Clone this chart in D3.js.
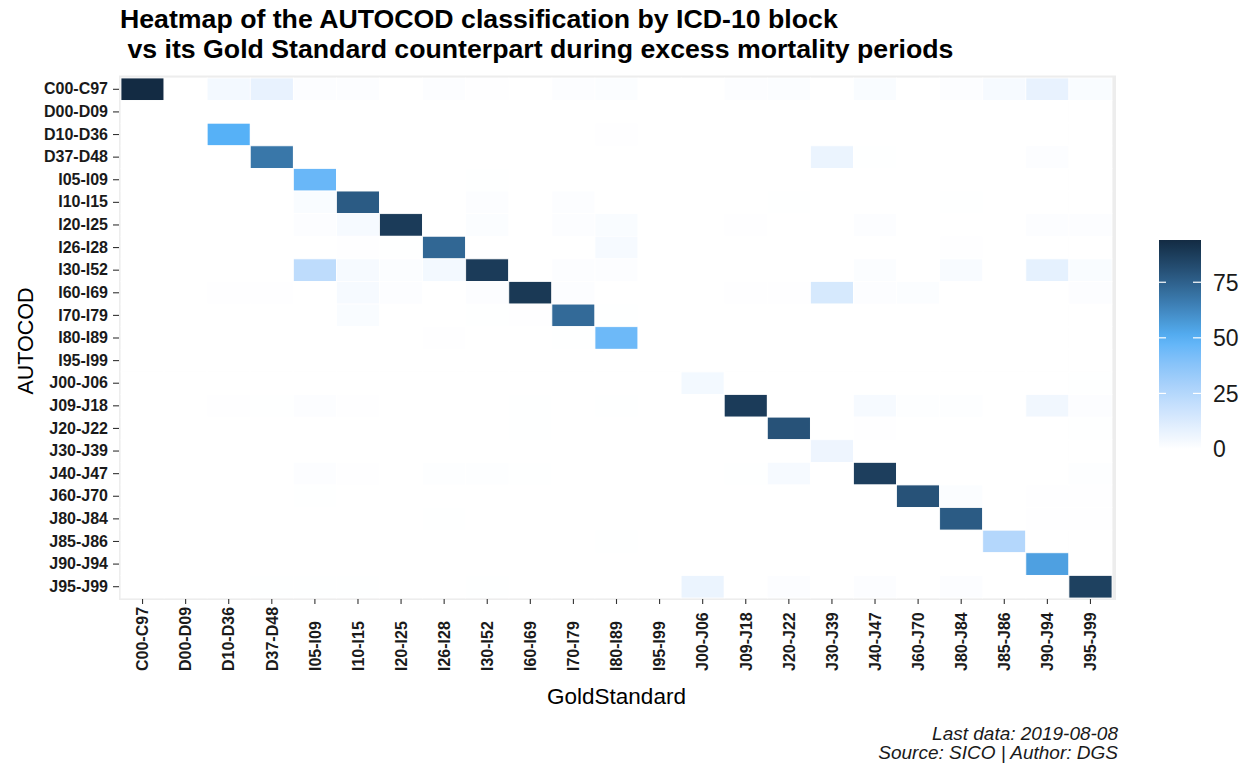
<!DOCTYPE html>
<html>
<head>
<meta charset="utf-8">
<script src="https://cdn.jsdelivr.net/npm/d3@7.9.0/dist/d3.min.js"></script>
<style>
  body { margin: 0; background: #fff; }
  svg text { font-family: "Liberation Sans", Arial, sans-serif; }
</style>
</head>
<body>
<svg id="chart" width="1250" height="768"></svg>
<script>
// ICD-10 blocks, same order on both axes
const blocks = ['C00-C97', 'D00-D09', 'D10-D36', 'D37-D48', 'I05-I09', 'I10-I15', 'I20-I25',
  'I26-I28', 'I30-I52', 'I60-I69', 'I70-I79', 'I80-I89', 'I95-I99', 'J00-J06', 'J09-J18',
  'J20-J22', 'J30-J39', 'J40-J47', 'J60-J70', 'J80-J84', 'J85-J86', 'J90-J94', 'J95-J99'];

// one row per AUTOCOD block, one value per GoldStandard block (percent)
const values = [
  [94, 0, 4, 8, 1, 1, 0, 1, 0.5, 0, 1, 1.5, 0, 0, 1, 1.5, 0, 2, 0, 1, 3, 8, 2],
  [0, 0, 0, 0, 0, 0, 0, 0, 0, 0, 0, 0, 0, 0, 0, 0, 0, 0, 0, 0, 0, 0, 0],
  [0, 0, 50, 0, 0, 0, 0, 0, 0, 0, 0, 0.5, 0, 0, 0, 0, 0, 0, 0, 0, 0, 0, 0],
  [0, 0, 0, 68, 0, 0, 0, 0, 0, 0, 0, 0, 0, 0, 0, 0, 7, 0.3, 0, 0, 0, 1, 0],
  [0, 0, 0, 0, 46, 0, 0, 0, 0.3, 0, 0, 0, 0, 0, 0, 0, 0, 0, 0, 0, 0, 0, 0],
  [0, 0, 0, 0, 2, 77, 0, 0, 1, 0, 1, 0, 0, 0, 0, 0.3, 0, 0, 0, 0.3, 0, 0, 0],
  [0, 0, 0, 0, 1, 3, 88, 0, 1.5, 0, 1, 2, 0, 0, 0.5, 0, 0, 1, 0, 0, 0, 1, 1],
  [0, 0, 0, 0, 0, 0.5, 0.3, 73, 0, 0, 0, 3, 0, 0, 0, 0, 0, 0, 0, 0.5, 0, 0, 0],
  [0, 0, 0, 0, 22, 3, 1.5, 4, 88, 0, 1, 1, 0, 0, 0, 0, 0, 1.5, 0, 2.5, 0, 9, 2],
  [0, 0, 0.5, 0.5, 0, 3, 1, 0, 1, 89, 1, 0, 0, 0, 0.5, 0.5, 14, 1, 1.5, 0, 0, 0, 1],
  [0, 0, 0, 0, 0, 2, 0, 0, 0.3, 0.5, 72, 0.3, 0, 0, 0, 0, 0, 0, 0, 0, 0, 0, 0],
  [0, 0, 0, 0, 0, 0, 0, 0.5, 0, 0, 0.3, 45, 0, 0, 0, 0, 0, 0, 0, 0, 0, 0, 0],
  [0, 0, 0, 0, 0, 0, 0, 0, 0, 0, 0, 0, 0, 0, 0, 0, 0, 0, 0, 0, 0, 0, 0],
  [0, 0, 0, 0, 0, 0, 0, 0, 0, 0, 0, 0, 0, 4, 0, 0, 0, 0, 0, 0, 0, 0, 0.3],
  [0, 0, 0.5, 0.2, 1, 0.5, 0, 0, 0, 0.3, 0, 0.3, 0, 0, 88, 0, 0, 3, 0.8, 0.8, 0, 5, 1],
  [0, 0, 0, 0, 0, 0, 0, 0, 0, 0.3, 0, 0, 0, 0, 0, 80, 0, 0.5, 0, 0, 0, 0, 0.3],
  [0, 0, 0, 0, 0, 0, 0, 0, 0, 0, 0, 0, 0, 0, 0, 0, 6, 0, 0, 0, 0, 0, 0],
  [0, 0, 0, 0, 1, 0.5, 0, 0.7, 0.7, 0.3, 0, 0, 0, 0, 0.3, 3, 0, 87, 0, 0, 0, 0, 0.8],
  [0, 0, 0, 0, 0.3, 0, 0, 0, 0, 0, 0, 0, 0, 0, 0, 0, 0, 0, 80, 1.5, 0, 0.5, 0.5],
  [0, 0, 0, 0, 0, 0, 0, 0.3, 0, 0, 0, 0, 0, 0, 0, 0, 0, 0, 0, 77, 0, 0.5, 0.5],
  [0, 0, 0, 0, 0, 0, 0, 0, 0, 0, 0, 0.3, 0, 0, 0, 0, 0, 0, 0, 0, 25, 0, 0],
  [0, 0, 0, 0, 0, 0, 0, 0, 0, 0, 0, 0, 0, 0, 0, 0, 0, 0, 0, 0, 0, 55, 0],
  [0, 0, 0, 0.3, 0.3, 0.3, 0, 0, 0.3, 0, 0, 0, 0, 7, 0, 1, 0, 1, 0, 1, 0, 0, 86]
];

const legendTicks = [0, 25, 50, 75];
const titleLines = ['Heatmap of the AUTOCOD classification by ICD-10 block',
  ' vs its Gold Standard counterpart during excess mortality periods'];
const captionLines = ['Last data: 2019-08-08', 'Source: SICO | Author: DGS'];

const svg = d3.select('#chart');
const panel = { left: 121, right: 1112, top: 78, bottom: 598 };

const cells = [];
values.forEach((row, i) => {
  row.forEach((v, j) => cells.push({ auto: blocks[i], gold: blocks[j], value: v }));
});
const maxValue = d3.max(cells, (d) => d.value);

const x = d3.scaleBand().domain(blocks).range([panel.left, panel.right]);
const y = d3.scaleBand().domain(blocks).range([panel.top, panel.bottom]);
const color = d3.scaleLinear()
  .domain([0, 50, maxValue])
  .range(['#ffffff', '#56B1F7', '#132B43'])
  .interpolate(d3.interpolateLab);

// panel background, peeks out around the tiles
svg.append('rect')
  .attr('x', panel.left - 2).attr('y', panel.top - 2.5)
  .attr('width', panel.right - panel.left + 6).attr('height', panel.bottom - panel.top + 4.5)
  .attr('fill', '#ededed');

svg.append('g')
  .selectAll('rect')
  .data(cells)
  .join('rect')
  .attr('x', (d) => x(d.gold))
  .attr('y', (d) => y(d.auto))
  .attr('width', x.bandwidth())
  .attr('height', y.bandwidth())
  .attr('fill', (d) => color(d.value))
  .attr('stroke', '#ffffff')
  .attr('stroke-width', 0.8);

// axes
const xAxis = svg.append('g')
  .attr('transform', `translate(0,${panel.bottom + 1})`)
  .call(d3.axisBottom(x).tickSize(5).tickPadding(4));
xAxis.select('.domain').remove();
xAxis.selectAll('text')
  .attr('transform', 'rotate(-90)')
  .attr('text-anchor', 'start')
  .attr('x', -72).attr('y', 0).attr('dy', '0.36em');

const yAxis = svg.append('g')
  .attr('transform', `translate(${panel.left - 2},0)`)
  .call(d3.axisLeft(y).tickSize(6).tickPadding(5));
yAxis.select('.domain').remove();

svg.selectAll('.tick line').attr('stroke', '#333').attr('stroke-width', 1.1);
svg.selectAll('.tick text')
  .attr('fill', '#1a1a1a')
  .style('font-size', '16px')
  .style('font-weight', 'bold');

// axis titles
svg.append('text')
  .attr('x', (panel.left + panel.right) / 2).attr('y', 704)
  .attr('text-anchor', 'middle')
  .style('font-size', '22.5px')
  .text('GoldStandard');

svg.append('text')
  .attr('transform', `translate(33,${(panel.top + panel.bottom) / 2 + 3}) rotate(-90)`)
  .attr('text-anchor', 'middle')
  .style('font-size', '21.5px')
  .text('AUTOCOD');

// title
svg.append('g')
  .selectAll('text')
  .data(titleLines)
  .join('text')
  .attr('x', 120)
  .attr('y', (d, i) => 28 + i * 30)
  .attr('xml:space', 'preserve')
  .style('font-size', '26.7px')
  .style('font-weight', 'bold')
  .text((d) => d);

// caption
svg.append('g')
  .selectAll('text')
  .data(captionLines)
  .join('text')
  .attr('x', 1118)
  .attr('y', (d, i) => 740 + i * 19)
  .attr('text-anchor', 'end')
  .style('font-size', '19px')
  .style('font-style', 'italic')
  .style('fill', '#1a1a1a')
  .text((d) => d);

// colour bar legend
const bar = { x: 1159, width: 42, top: 240, bottom: 449 };
const legendScale = d3.scaleLinear().domain([0, maxValue]).range([bar.bottom, bar.top]);

const grad = svg.append('defs').append('linearGradient')
  .attr('id', 'fillGrad')
  .attr('x1', 0).attr('y1', 1).attr('x2', 0).attr('y2', 0);
grad.selectAll('stop')
  .data(d3.range(0, 1.0001, 0.05))
  .join('stop')
  .attr('offset', (t) => t)
  .attr('stop-color', (t) => color(t * maxValue));

svg.append('rect')
  .attr('x', bar.x).attr('y', bar.top)
  .attr('width', bar.width).attr('height', bar.bottom - bar.top)
  .attr('fill', 'url(#fillGrad)');

const legend = svg.append('g');
legendTicks.forEach((t) => {
  const ty = legendScale(t);
  legend.append('line')
    .attr('x1', bar.x).attr('x2', bar.x + 7).attr('y1', ty).attr('y2', ty)
    .attr('stroke', '#fff').attr('stroke-width', 1.2);
  legend.append('line')
    .attr('x1', bar.x + bar.width - 8).attr('x2', bar.x + bar.width).attr('y1', ty).attr('y2', ty)
    .attr('stroke', '#fff').attr('stroke-width', 1.2);
  legend.append('text')
    .attr('x', 1213).attr('y', ty).attr('dy', '0.36em')
    .style('font-size', '23px')
    .style('fill', '#1a1a1a')
    .text(t);
});
</script>
</body>
</html>
